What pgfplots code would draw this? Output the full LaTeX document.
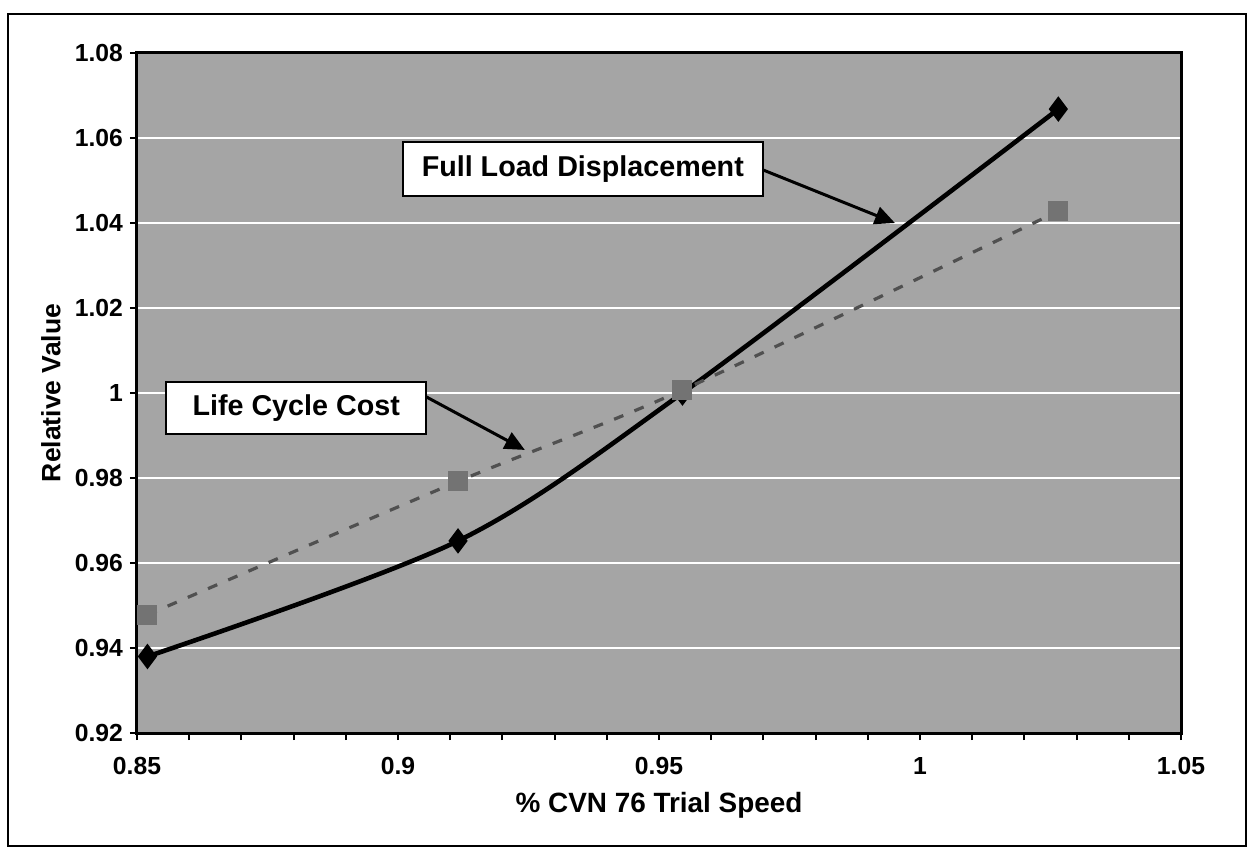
\documentclass[border=0pt]{standalone}
\usepackage{pgfplots}
\pgfplotsset{compat=1.18}
\usepackage{pgfplotstable}
\usepackage{fontspec}
\setmainfont{Liberation Sans}
\usetikzlibrary{arrows.meta}
\definecolor{bgc}{RGB}{165,165,165}
\definecolor{lccc}{RGB}{80,80,80}
\definecolor{sqc}{RGB}{115,115,115}

\pgfplotstableread{
x y
0.852 0.938
0.9115 0.9652
0.9545 1.000
1.0265 1.0668
}\fld

\pgfplotstableread{
x y
0.852 0.9478
0.9115 0.9792
0.9545 1.0007
1.0265 1.0428
}\lcc

\begin{document}
\begin{tikzpicture}
\useasboundingbox (-68.5bp,-57.5bp) rectangle (555.5bp,366.5bp);
\draw[line width=0.8bp] (-64.5bp,-56.5bp) rectangle (554.5bp,359.5bp);
\begin{axis}[
  at={(0,0)}, anchor=south west,
  scale only axis, width=522bp, height=340bp,
  xmin=0.85, xmax=1.05, ymin=0.92, ymax=1.08,
  xtick={0.85,0.9,0.95,1,1.05}, minor x tick num=4,
  ytick={0.92,0.94,0.96,0.98,1,1.02,1.04,1.06,1.08},
  xtick pos=bottom, ytick pos=left,
  tick align=outside,
  major tick length=3.5bp, minor tick length=3.5bp,
  ymajorgrids, grid style={white, line width=1.3bp},
  axis background/.style={fill=bgc},
  axis line style={line width=1.5bp},
  every tick/.style={black, line width=1bp},
  /pgf/number format/assume math mode=true,
  /pgf/number format/fixed, /pgf/number format/precision=2,
  tick label style={font=\fontsize{12.4}{14}\selectfont\bfseries},
  xticklabel style={yshift=-5bp},
  xlabel={\% CVN 76 Trial Speed}, ylabel={Relative Value},
  xlabel style={at={(axis description cs:0.5,-0.106)}, anchor=center, font=\fontsize{14}{16}\selectfont\bfseries},
  ylabel style={at={(axis description cs:-0.0824,0.5)}, anchor=center, font=\fontsize{13.3}{15}\selectfont\bfseries},
]
\addplot[black, line width=2.3bp, smooth, mark=diamond*, mark size=4.5bp, mark options={solid, fill=black}] table[x=x,y=y] {\fld};
\addplot[lccc, line width=1.6bp, smooth, dash pattern=on 5bp off 6bp, mark=square*, mark size=4.2bp, mark options={solid, fill=sqc, draw=sqc}] table[x=x,y=y] {\lcc};

\node[draw=black, fill=white, line width=1bp, minimum width=180bp, minimum height=27bp, inner sep=0pt, font=\fontsize{14.4}{16}\selectfont\bfseries] at (axis cs:0.9354,1.0527) {Full Load Displacement};
\node[draw=black, fill=white, line width=1bp, minimum width=130bp, minimum height=26bp, inner sep=0pt, font=\fontsize{14.4}{16}\selectfont\bfseries] at (axis cs:0.8805,0.9965) {Life Cycle Cost};
\draw[-{Triangle[length=10bp,width=9bp]}, line width=1.5bp] (axis cs:0.9699,1.0525) -- (axis cs:0.9952,1.0400);
\draw[-{Triangle[length=10bp,width=9bp]}, line width=1.5bp] (axis cs:0.9054,0.9991) -- (axis cs:0.9243,0.9866);
\end{axis}
\end{tikzpicture}
\end{document}
